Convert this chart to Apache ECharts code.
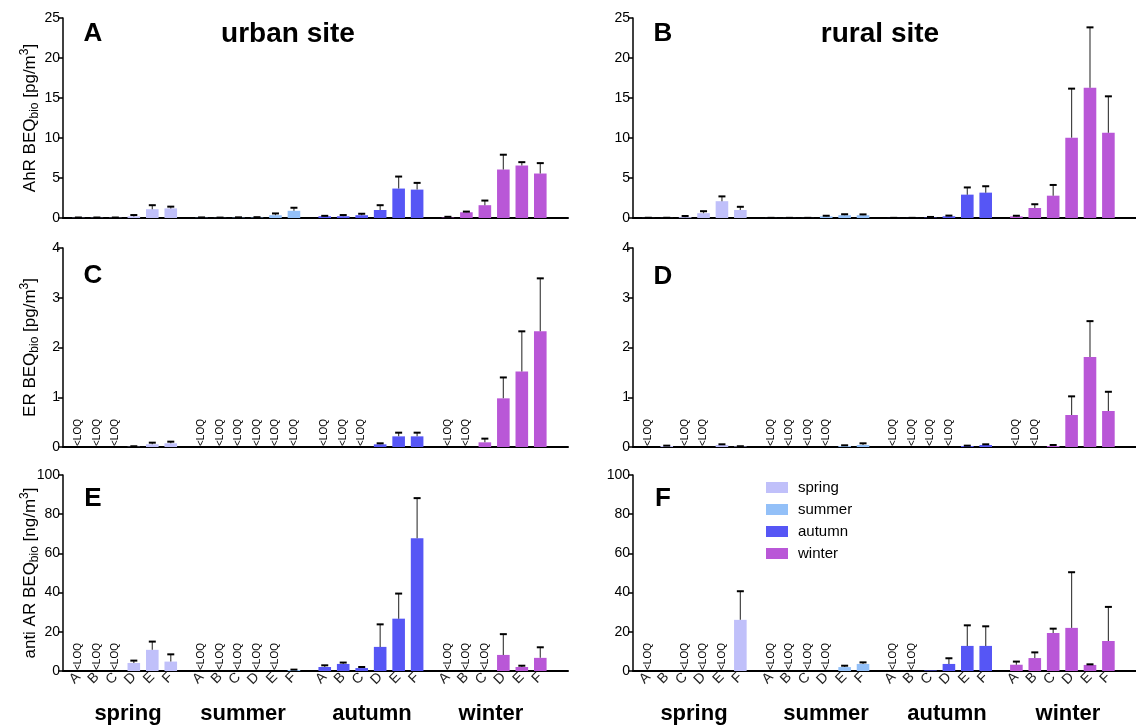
<!DOCTYPE html>
<html><head><meta charset="utf-8">
<script src="https://cdn.jsdelivr.net/npm/echarts@6/dist/echarts.min.js"></script>
<style>html,body{margin:0;padding:0;background:#fff}#c{width:1136px;height:727px}</style>
</head><body><div id="c"></div>
<script>
const L = 'LOQ';
const sites = ['A', 'B', 'C', 'D', 'E', 'F'];
const seasons = ['spring', 'summer', 'autumn', 'winter'];
const seasonColors = ['#c0c0fa', '#93c0f8', '#5656f5', '#b957d7'];

// AhR, urban site (pg/m3) – rows: spring, summer, autumn, winter
const ahrUrbanMean = [
  [0.03, 0.03, 0.03, 0.2, 1.1, 1.2],
  [0.03, 0.02, 0.04, 0.05, 0.35, 0.9],
  [0.22, 0.22, 0.35, 1.0, 3.68, 3.55],
  [0.05, 0.72, 1.6, 6.06, 6.56, 5.56]];
const ahrUrbanSd = [
  [0.03, 0.03, 0.03, 0.17, 0.5, 0.22],
  [0.04, 0.03, 0.04, 0.05, 0.22, 0.38],
  [0.05, 0.15, 0.18, 0.6, 1.5, 0.84],
  [0.1, 0.08, 0.58, 1.85, 0.42, 1.3]];
// AhR, rural site
const ahrRuralMean = [
  [0.01, 0.01, 0.1, 0.6, 2.1, 1.0],
  [0.01, 0.01, 0.01, 0.2, 0.35, 0.35],
  [0.01, 0.01, 0.05, 0.22, 2.92, 3.17],
  [0.2, 1.25, 2.79, 10.04, 16.29, 10.67]];
const ahrRuralSd = [
  [0.02, 0.02, 0.15, 0.25, 0.6, 0.4],
  [0.01, 0.01, 0.01, 0.08, 0.12, 0.1],
  [0.01, 0.01, 0.08, 0.08, 0.9, 0.8],
  [0.08, 0.47, 1.34, 6.13, 7.54, 4.54]];
// ER, urban site
const erUrbanMean = [
  [L, L, L, 0.005, 0.054, 0.074],
  [L, L, L, L, L, L],
  [L, L, L, 0.054, 0.214, 0.214],
  [L, L, 0.094, 0.978, 1.52, 2.325]];
const erUrbanSd = [
  [0, 0, 0, 0.01, 0.033, 0.033],
  [0, 0, 0, 0, 0, 0],
  [0, 0, 0, 0.02, 0.074, 0.074],
  [0, 0, 0.074, 0.42, 0.805, 1.065]];
// ER, rural site
const erRuralMean = [
  [L, 0.02, L, L, 0.04, 0.01],
  [L, L, L, L, 0.02, 0.04],
  [L, L, L, L, 0.02, 0.04],
  [L, L, 0.02, 0.643, 1.81, 0.724]];
const erRuralSd = [
  [0, 0.007, 0, 0, 0.014, 0.005],
  [0, 0, 0, 0, 0.014, 0.034],
  [0, 0, 0, 0, 0.007, 0.014],
  [0, 0, 0.02, 0.375, 0.72, 0.386]];
// anti AR, urban site (ng/m3)
const arUrbanMean = [
  [L, L, L, 4.1, 10.8, 4.8],
  [L, L, L, L, L, 0.5],
  [2.05, 3.6, 1.5, 12.3, 26.7, 67.7],
  [L, L, L, 8.2, 2.05, 6.7]];
const arUrbanSd = [
  [0, 0, 0, 1.2, 4.2, 3.7],
  [0, 0, 0, 0, 0, 0.2],
  [0.85, 0.7, 0.55, 11.5, 12.8, 20.5],
  [0, 0, 0, 10.6, 0.65, 5.4]];
// anti AR, rural site
const arRuralMean = [
  [L, null, L, L, L, 26.1],
  [L, L, L, L, 2.0, 3.6],
  [L, L, 0.3, 3.6, 12.8, 12.8],
  [3.2, 6.6, 19.4, 22.0, 3.1, 15.3]];
const arRuralSd = [
  [0, 0, 0, 0, 0, 14.6],
  [0, 0, 0, 0, 0.7, 0.8],
  [0, 0, 0, 2.9, 10.5, 10.0],
  [1.6, 2.9, 2.2, 28.4, 0.3, 17.4]];

const yMaxAhR = 25, yStepAhR = 5;
const yMaxER = 4, yStepER = 1;
const yMaxAR = 100, yStepAR = 20;
const nameAhR = 'AhR BEQ{sub|bio} [pg/m{sup|3}]';
const nameER = 'ER BEQ{sub|bio} [pg/m{sup|3}]';
const nameAR = 'anti AR BEQ{sub|bio} [ng/m{sup|3}]';
const panelLetters = ['A', 'B', 'C', 'D', 'E', 'F'];
const siteTitles = ['urban site', 'rural site'];

const FONT = '"Liberation Sans", Arial, sans-serif';

// category slots: each site = 3 sub-slots, gap between seasons
const SUB = 3, LEAD = 2, STRIDE = sites.length * SUB + 2;
const NCAT = LEAD + STRIDE * (seasons.length - 1) + sites.length * SUB - 1 + LEAD + 1;
const cats = new Array(NCAT).fill('');
const slot = (g, i) => LEAD + STRIDE * g + SUB * i;
seasons.forEach((s, g) => sites.forEach((c, i) => { cats[slot(g, i)] = c; }));
const isTick = (idx) => cats[idx] !== '';

const colLeft = [63, 633], gridW = 505;
const rowTop = [18, 248, 475], rowH = [200, 199, 196];

const panels = [
  {mean: ahrUrbanMean, sd: ahrUrbanSd, max: yMaxAhR, step: yStepAhR, name: nameAhR, col: 0, row: 0},
  {mean: ahrRuralMean, sd: ahrRuralSd, max: yMaxAhR, step: yStepAhR, name: '', col: 1, row: 0},
  {mean: erUrbanMean, sd: erUrbanSd, max: yMaxER, step: yStepER, name: nameER, col: 0, row: 1},
  {mean: erRuralMean, sd: erRuralSd, max: yMaxER, step: yStepER, name: '', col: 1, row: 1},
  {mean: arUrbanMean, sd: arUrbanSd, max: yMaxAR, step: yStepAR, name: nameAR, col: 0, row: 2},
  {mean: arRuralMean, sd: arRuralSd, max: yMaxAR, step: yStepAR, name: '', col: 1, row: 2}
];

function errRender(params, api) {
  const x = api.value(0), m = api.value(1), e = api.value(2);
  const b = api.coord([x, m]), t = api.coord([x, m + e]);
  const hw = 3.5;
  return {type: 'group', children: [
    {type: 'line', shape: {x1: b[0], y1: b[1], x2: t[0], y2: t[1]}, style: {stroke: '#444', lineWidth: 1.2}},
    {type: 'line', shape: {x1: t[0] - hw, y1: t[1], x2: t[0] + hw, y2: t[1]}, style: {stroke: '#000', lineWidth: 2}}
  ]};
}
function loqRender(params, api) {
  const p = api.coord([api.value(0), 0]);
  return {type: 'text', x: p[0], y: p[1] - 1, rotation: Math.PI / 2,
    style: {text: '<LOQ', fontSize: 10, fontFamily: FONT, fill: '#000',
      align: 'left', verticalAlign: 'middle', textAlign: 'left', textVerticalAlign: 'middle'}};
}

const grids = [], xAxes = [], yAxes = [], series = [];
panels.forEach((p, pi) => {
  const bottom = p.row === 2;
  grids.push({left: colLeft[p.col], top: rowTop[p.row], width: gridW, height: rowH[p.row]});
  xAxes.push({type: 'category', gridIndex: pi, data: cats, boundaryGap: true,
    axisLine: {lineStyle: {color: '#000', width: 2}},
    axisTick: {alignWithLabel: true, interval: isTick, length: 6, lineStyle: {color: '#000', width: 1.5}},
    axisLabel: {show: bottom, interval: 0, rotate: 45, fontSize: 14, color: '#222', margin: 4, fontFamily: FONT}
  });
  yAxes.push({type: 'value', gridIndex: pi, min: 0, max: p.max, interval: p.step,
    splitLine: {show: false},
    axisLine: {show: true, lineStyle: {color: '#000', width: 1.5}},
    axisTick: {show: true, length: 5, lineStyle: {color: '#000', width: 1.5}},
    axisLabel: {fontSize: 14, color: '#000', margin: 3, fontFamily: FONT},
    name: p.name, nameLocation: 'middle', nameGap: 22, nameMoveOverlap: false,
    nameTextStyle: {fontSize: 17, color: '#000', fontFamily: FONT, lineHeight: 22,
      rich: {
        sub: {fontSize: 12, color: '#000', fontFamily: FONT, verticalAlign: 'bottom', lineHeight: 12},
        sup: {fontSize: 12, color: '#000', fontFamily: FONT, verticalAlign: 'top', lineHeight: 12}
      }}
  });
  const eb = [], lq = [];
  seasons.forEach((s, g) => {
    const data = cats.map(() => null);
    p.mean[g].forEach((v, i) => {
      if (typeof v === 'number') {
        data[slot(g, i)] = v;
        if (p.sd[g][i] > 0) eb.push([slot(g, i), v, p.sd[g][i]]);
      } else if (v === L) {
        lq.push([slot(g, i), 0]);
      }
    });
    series.push({type: 'bar', name: s, xAxisIndex: pi, yAxisIndex: pi, data: data,
      barWidth: 12.6, barGap: '-100%', itemStyle: {color: seasonColors[g]}, silent: true});
  });
  series.push({type: 'custom', xAxisIndex: pi, yAxisIndex: pi, data: eb, renderItem: errRender, z: 5, silent: true});
  series.push({type: 'custom', xAxisIndex: pi, yAxisIndex: pi, data: lq, renderItem: loqRender, z: 6, silent: true});
});

const letterPos = [[93, 34], [663, 34], [93, 276], [663, 277], [93, 499], [663, 499]];
const graphics = [];
panelLetters.forEach((t, i) => graphics.push({type: 'text', x: letterPos[i][0], y: letterPos[i][1],
  style: {text: t, fontSize: 26, fontWeight: 'bold', fontFamily: FONT, fill: '#000', textAlign: 'center', textVerticalAlign: 'middle'}}));
const titlePos = [[288, 34], [880, 34]];
siteTitles.forEach((t, i) => graphics.push({type: 'text', x: titlePos[i][0], y: titlePos[i][1],
  style: {text: t, fontSize: 28, fontWeight: 'bold', fontFamily: FONT, fill: '#000', textAlign: 'center', textVerticalAlign: 'middle'}}));
const seasonLabelX = [[128, 243, 372, 491], [694, 826, 947, 1068]];
seasonLabelX.forEach(row => row.forEach((x, g) => graphics.push({type: 'text', x: x, y: 714,
  style: {text: seasons[g], fontSize: 22, fontWeight: 'bold', fontFamily: FONT, fill: '#000', textAlign: 'center', textVerticalAlign: 'middle'}})));

const chart = echarts.init(document.getElementById('c'));
chart.setOption({
  animation: false,
  backgroundColor: '#fff',
  grid: grids, xAxis: xAxes, yAxis: yAxes, series: series,
  legend: {data: seasons, orient: 'vertical', left: 761, top: 475, itemWidth: 22, itemHeight: 11, itemGap: 7,
    icon: 'rect', selectedMode: false,
    textStyle: {fontSize: 15, color: '#000', fontFamily: FONT, padding: [0, 0, 0, 5]}},
  graphic: graphics
});
</script></body></html>
